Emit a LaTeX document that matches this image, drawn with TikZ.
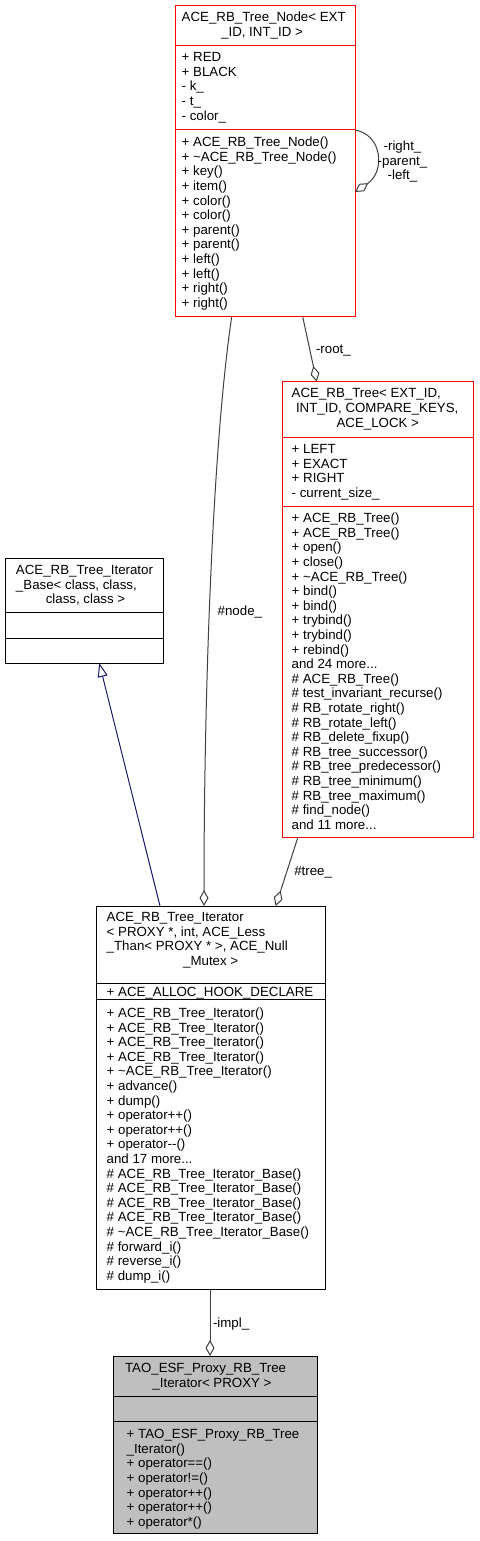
\documentclass[tikz,border=0pt]{standalone}
\usepackage{fontspec}
\setmainfont{Liberation Sans}
\usetikzlibrary{arrows.meta,calc}
\definecolor{edgegray}{HTML}{404040}
\definecolor{inhblue}{HTML}{191970}
\definecolor{taogray}{HTML}{BFBFBF}
\begin{document}
\begin{tikzpicture}[x=1pt,y=-1pt,
  cls/.style={rectangle, inner sep=0pt, outer sep=0pt, line width=1pt, anchor=north west, fill=white},
  redcls/.style={cls, draw=red},
  blkcls/.style={cls, draw=black},
  sepred/.style={draw=red, line width=1pt},
  sepblk/.style={draw=black, line width=1pt},
  txt/.style={font=\fontsize{13.3}{14.6}\selectfont, inner sep=0pt, outer sep=0pt, align=left, anchor=north west},
  ctxt/.style={txt, anchor=north, align=center},
  use/.style={draw=edgegray, line width=1pt, -{Diamond[open, length=16pt, width=9pt]}},
  inh/.style={draw=inhblue, line width=1pt, -{Triangle[open, length=14pt, width=10pt]}},
]
\useasboundingbox (0,0) rectangle (479,1541);
\fill[white] (0,0) rectangle (479,1541);

% ---- class boxes ----
\node[redcls, minimum width=180pt, minimum height=310.7pt] (rbn) at (175,6) {};
\draw[sepred] ($(rbn.north west)+(0,40)$) -- ($(rbn.north east)+(0,40)$);
\draw[sepred] ($(rbn.north west)+(0,124)$) -- ($(rbn.north east)+(0,124)$);

\node[redcls, minimum width=191.3pt, minimum height=455.3pt] (rbt) at (282,381.7) {};
\draw[sepred] ($(rbt.north west)+(0,55.3)$) -- ($(rbt.north east)+(0,55.3)$);
\draw[sepred] ($(rbt.north west)+(0,124.3)$) -- ($(rbt.north east)+(0,124.3)$);

\node[blkcls, minimum width=158pt, minimum height=105pt] (base) at (5,558) {};
\draw[sepblk] ($(base.north west)+(0,54)$) -- ($(base.north east)+(0,54)$);
\draw[sepblk] ($(base.north west)+(0,80)$) -- ($(base.north east)+(0,80)$);

\node[blkcls, minimum width=229pt, minimum height=383pt] (iter) at (96,906) {};
\draw[sepblk] ($(iter.north west)+(0,77)$) -- ($(iter.north east)+(0,77)$);
\draw[sepblk] ($(iter.north west)+(0,93)$) -- ($(iter.north east)+(0,93)$);

\node[blkcls, fill=taogray, minimum width=204.3pt, minimum height=177.7pt] (tao) at (113,1356) {};
\draw[sepblk] ($(tao.north west)+(0,40)$) -- ($(tao.north east)+(0,40)$);
\draw[sepblk] ($(tao.north west)+(0,65)$) -- ($(tao.north east)+(0,65)$);

% ---- texts: ACE_RB_Tree_Node ----
\node[txt] (rbnt1) at (181.7,11.5) {\strut ACE\_RB\_Tree\_Node< EXT};
\node[ctxt] (rbnt2) at (262,26.5) {\strut \_ID, INT\_ID >};
\node[txt] (rbna) at (181.7,51.5) {\strut + RED\\+ BLACK\\- k\_\\- t\_\\- color\_};
\node[txt] (rbnm) at (181.7,136.5) {\strut + ACE\_RB\_Tree\_Node()\\+ \textasciitilde ACE\_RB\_Tree\_Node()\\+ key()\\+ item()\\+ color()\\+ color()\\+ parent()\\+ parent()\\+ left()\\+ left()\\+ right()\\+ right()};

% ---- texts: ACE_RB_Tree ----
\node[txt] (rbtt1) at (291.7,387.5) {\strut ACE\_RB\_Tree< EXT\_ID,\\\hspace*{4.3pt}INT\_ID, COMPARE\_KEYS,};
\node[ctxt] (rbtt2) at (377.8,416.8) {\strut ACE\_LOCK >};
\node[txt] (rbta) at (291.7,443.5) {\strut + LEFT\\+ EXACT\\+ RIGHT\\- current\_size\_};
\node[txt] (rbtm) at (291.7,512.5) {\strut + ACE\_RB\_Tree()\\+ ACE\_RB\_Tree()\\+ open()\\+ close()\\+ \textasciitilde ACE\_RB\_Tree()\\+ bind()\\+ bind()\\+ trybind()\\+ trybind()\\+ rebind()\\and 24 more...\\\# ACE\_RB\_Tree()\\\# test\_invariant\_recurse()\\\# RB\_rotate\_right()\\\# RB\_rotate\_left()\\\# RB\_delete\_fixup()\\\# RB\_tree\_successor()\\\# RB\_tree\_predecessor()\\\# RB\_tree\_minimum()\\\# RB\_tree\_maximum()\\\# find\_node()\\and 11 more...};

% ---- texts: base ----
\node[txt] (baset1) at (16,564.5) {\strut ACE\_RB\_Tree\_Iterator\\\_Base< class, class,};
\node[ctxt] (baset2) at (85.5,593.5) {\strut class, class >};

% ---- texts: iterator ----
\node[txt] (itert1) at (106.7,911.5) {\strut ACE\_RB\_Tree\_Iterator\\< PROXY *, int, ACE\_Less\\\_Than< PROXY * >, ACE\_Null};
\node[ctxt] (itert2) at (210.7,955.5) {\strut \_Mutex >};
\node[txt] (itera) at (106.7,986.2) {\strut + ACE\_ALLOC\_HOOK\_DECLARE};
\node[txt] (iterm) at (106.7,1007.2) {\strut + ACE\_RB\_Tree\_Iterator()\\+ ACE\_RB\_Tree\_Iterator()\\+ ACE\_RB\_Tree\_Iterator()\\+ ACE\_RB\_Tree\_Iterator()\\+ \textasciitilde ACE\_RB\_Tree\_Iterator()\\+ advance()\\+ dump()\\+ operator++()\\+ operator++()\\+ operator-{}-()\\and 17 more...\\\# ACE\_RB\_Tree\_Iterator\_Base()\\\# ACE\_RB\_Tree\_Iterator\_Base()\\\# ACE\_RB\_Tree\_Iterator\_Base()\\\# ACE\_RB\_Tree\_Iterator\_Base()\\\# \textasciitilde ACE\_RB\_Tree\_Iterator\_Base()\\\# forward\_i()\\\# reverse\_i()\\\# dump\_i()};

% ---- texts: TAO ----
\node[txt] (taot1) at (125,1362.5) {\strut TAO\_ESF\_Proxy\_RB\_Tree};
\node[ctxt] (taot2) at (212,1377.5) {\strut \_Iterator< PROXY >};
\node[txt] (taom) at (126.7,1428.5) {\strut + TAO\_ESF\_Proxy\_RB\_Tree\\\_Iterator()\\+ operator==()\\+ operator!=()\\+ operator++()\\+ operator++()\\+ operator*()};

% ---- connectors ----
\draw[use] ($(rbn.north east)+(0,124)$) .. controls (383,135) and (385,172) .. ($(rbn.north east)+(0,186)$);
\node[ctxt] (selflbl) at (402.5,140.5) {\strut -right\_\\-parent\_\\-left\_};

\draw[use] ($(rbn.south west)+(56.7,0)$) .. controls (212,450) and (204,700) .. ($(iter.north west)+(108,0)$);
\node[txt] (nodelbl) at (217.7,605.2) {\strut \#node\_};

\draw[use] ($(rbn.south west)+(127.7,0)$) -- ($(rbt.north west)+(34.7,0)$);
\node[txt] (rootlbl) at (316,343.5) {\strut -root\_};

\draw[use] ($(rbt.south west)+(16,0)$) -- ($(iter.north west)+(179.7,0)$);
\node[txt] (treelbl) at (294.3,865.2) {\strut \#tree\_};

\draw[inh] ($(iter.north west)+(64,0)$) -- ($(base.south west)+(94.3,0)$);

\draw[use] ($(iter.south west)+(114,0)$) -- ($(tao.north west)+(97,0)$);
\node[txt] (impllbl) at (213,1317.5) {\strut -impl\_};
\end{tikzpicture}
\end{document}
